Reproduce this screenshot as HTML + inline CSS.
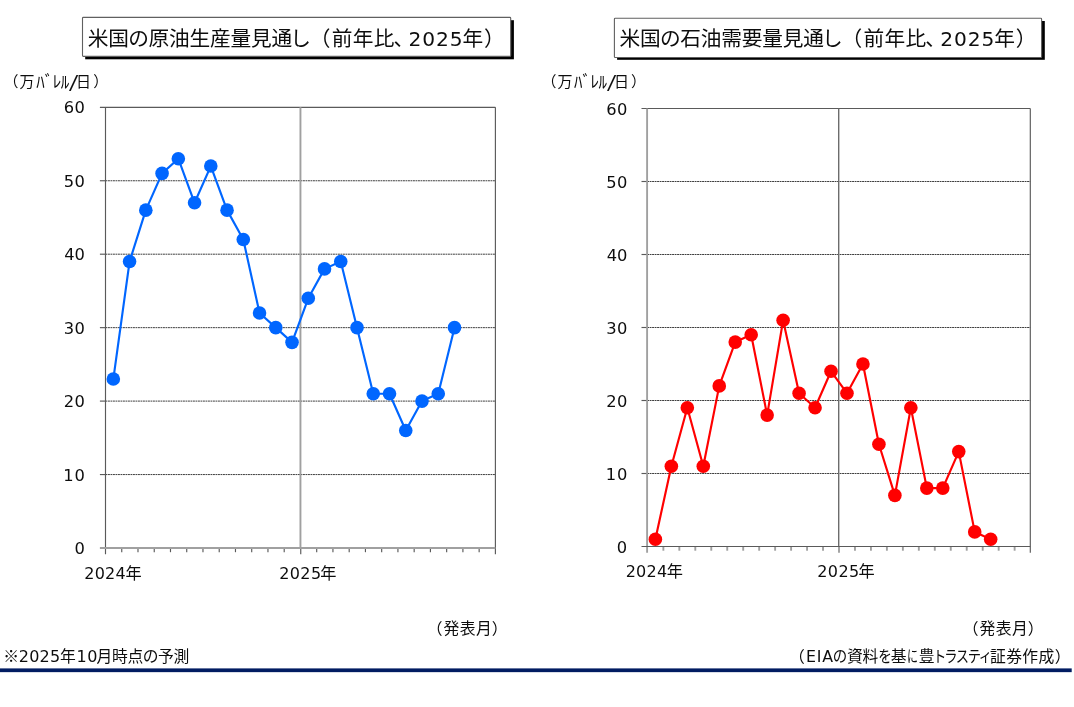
<!DOCTYPE html>
<html lang="ja">
<head>
<meta charset="utf-8">
<title>米国の原油生産量見通し・石油需要量見通し</title>
<style>
html,body{margin:0;padding:0;background:#fff;}
body{width:1074px;height:707px;overflow:hidden;position:relative;font-family:"Liberation Sans","Noto Sans CJK JP",sans-serif;color:#111;}
svg{position:absolute;left:0;top:0;display:block;}
text{fill:#0d0d0d;white-space:pre;}
</style>
</head>
<body>
<svg width="1074" height="707" viewBox="0 0 1074 707">
<rect x="0" y="0" width="1074" height="707" fill="#fff"/>
<g id="chart-left">
<line x1="105.50" y1="474.55" x2="495.40" y2="474.55" stroke="#1c1c1c" stroke-width="0.85" stroke-dasharray="1.9 0.6"/>
<line x1="105.50" y1="401.10" x2="495.40" y2="401.10" stroke="#1c1c1c" stroke-width="0.85" stroke-dasharray="1.9 0.6"/>
<line x1="105.50" y1="327.65" x2="495.40" y2="327.65" stroke="#1c1c1c" stroke-width="0.85" stroke-dasharray="1.9 0.6"/>
<line x1="105.50" y1="254.20" x2="495.40" y2="254.20" stroke="#1c1c1c" stroke-width="0.85" stroke-dasharray="1.9 0.6"/>
<line x1="105.50" y1="180.75" x2="495.40" y2="180.75" stroke="#1c1c1c" stroke-width="0.85" stroke-dasharray="1.9 0.6"/>
<line x1="99.90" y1="107.30" x2="495.40" y2="107.30" stroke="#5a5a5a" stroke-width="1.15"/>
<line x1="495.40" y1="107.30" x2="495.40" y2="554.30" stroke="#5a5a5a" stroke-width="1.15"/>
<line x1="300.45" y1="107.30" x2="300.45" y2="548.00" stroke="#a0a0a0" stroke-width="1.9"/>
<line x1="300.75" y1="548.00" x2="300.75" y2="554.30" stroke="#5a5a5a" stroke-width="1.15"/>
<line x1="99.90" y1="474.55" x2="105.50" y2="474.55" stroke="#5a5a5a" stroke-width="1.15"/>
<line x1="99.90" y1="401.10" x2="105.50" y2="401.10" stroke="#5a5a5a" stroke-width="1.15"/>
<line x1="99.90" y1="327.65" x2="105.50" y2="327.65" stroke="#5a5a5a" stroke-width="1.15"/>
<line x1="99.90" y1="254.20" x2="105.50" y2="254.20" stroke="#5a5a5a" stroke-width="1.15"/>
<line x1="99.90" y1="180.75" x2="105.50" y2="180.75" stroke="#5a5a5a" stroke-width="1.15"/>
<line x1="121.75" y1="548.00" x2="121.75" y2="552.20" stroke="#5a5a5a" stroke-width="1.15"/>
<line x1="137.99" y1="548.00" x2="137.99" y2="552.20" stroke="#5a5a5a" stroke-width="1.15"/>
<line x1="154.24" y1="548.00" x2="154.24" y2="552.20" stroke="#5a5a5a" stroke-width="1.15"/>
<line x1="170.48" y1="548.00" x2="170.48" y2="552.20" stroke="#5a5a5a" stroke-width="1.15"/>
<line x1="186.73" y1="548.00" x2="186.73" y2="552.20" stroke="#5a5a5a" stroke-width="1.15"/>
<line x1="202.97" y1="548.00" x2="202.97" y2="552.20" stroke="#5a5a5a" stroke-width="1.15"/>
<line x1="219.22" y1="548.00" x2="219.22" y2="552.20" stroke="#5a5a5a" stroke-width="1.15"/>
<line x1="235.47" y1="548.00" x2="235.47" y2="552.20" stroke="#5a5a5a" stroke-width="1.15"/>
<line x1="251.71" y1="548.00" x2="251.71" y2="552.20" stroke="#5a5a5a" stroke-width="1.15"/>
<line x1="267.96" y1="548.00" x2="267.96" y2="552.20" stroke="#5a5a5a" stroke-width="1.15"/>
<line x1="284.20" y1="548.00" x2="284.20" y2="552.20" stroke="#5a5a5a" stroke-width="1.15"/>
<line x1="316.70" y1="548.00" x2="316.70" y2="552.20" stroke="#5a5a5a" stroke-width="1.15"/>
<line x1="332.94" y1="548.00" x2="332.94" y2="552.20" stroke="#5a5a5a" stroke-width="1.15"/>
<line x1="349.19" y1="548.00" x2="349.19" y2="552.20" stroke="#5a5a5a" stroke-width="1.15"/>
<line x1="365.43" y1="548.00" x2="365.43" y2="552.20" stroke="#5a5a5a" stroke-width="1.15"/>
<line x1="381.68" y1="548.00" x2="381.68" y2="552.20" stroke="#5a5a5a" stroke-width="1.15"/>
<line x1="397.93" y1="548.00" x2="397.93" y2="552.20" stroke="#5a5a5a" stroke-width="1.15"/>
<line x1="414.17" y1="548.00" x2="414.17" y2="552.20" stroke="#5a5a5a" stroke-width="1.15"/>
<line x1="430.42" y1="548.00" x2="430.42" y2="552.20" stroke="#5a5a5a" stroke-width="1.15"/>
<line x1="446.66" y1="548.00" x2="446.66" y2="552.20" stroke="#5a5a5a" stroke-width="1.15"/>
<line x1="462.91" y1="548.00" x2="462.91" y2="552.20" stroke="#5a5a5a" stroke-width="1.15"/>
<line x1="479.15" y1="548.00" x2="479.15" y2="552.20" stroke="#5a5a5a" stroke-width="1.15"/>
<line x1="105.50" y1="107.30" x2="105.50" y2="554.30" stroke="#5a5a5a" stroke-width="1.15"/>
<line x1="99.90" y1="548.00" x2="495.40" y2="548.00" stroke="#a0a0a0" stroke-width="1.9"/>
<polyline fill="none" stroke="#0066ff" stroke-width="2.15" stroke-linejoin="round" points="113.32,379.06 129.57,261.55 145.81,210.13 162.06,173.41 178.31,158.72 194.55,202.79 210.80,166.06 227.04,210.13 243.29,239.51 259.54,312.96 275.78,327.65 292.03,342.34 308.27,298.27 324.52,268.89 340.76,261.55 357.01,327.65 373.26,393.75 389.50,393.75 405.75,430.48 421.99,401.10 438.24,393.75 454.49,327.65"/>
<circle cx="113.32" cy="379.06" r="6.8" fill="#0066ff"/>
<circle cx="129.57" cy="261.55" r="6.8" fill="#0066ff"/>
<circle cx="145.81" cy="210.13" r="6.8" fill="#0066ff"/>
<circle cx="162.06" cy="173.41" r="6.8" fill="#0066ff"/>
<circle cx="178.31" cy="158.72" r="6.8" fill="#0066ff"/>
<circle cx="194.55" cy="202.79" r="6.8" fill="#0066ff"/>
<circle cx="210.80" cy="166.06" r="6.8" fill="#0066ff"/>
<circle cx="227.04" cy="210.13" r="6.8" fill="#0066ff"/>
<circle cx="243.29" cy="239.51" r="6.8" fill="#0066ff"/>
<circle cx="259.54" cy="312.96" r="6.8" fill="#0066ff"/>
<circle cx="275.78" cy="327.65" r="6.8" fill="#0066ff"/>
<circle cx="292.03" cy="342.34" r="6.8" fill="#0066ff"/>
<circle cx="308.27" cy="298.27" r="6.8" fill="#0066ff"/>
<circle cx="324.52" cy="268.89" r="6.8" fill="#0066ff"/>
<circle cx="340.76" cy="261.55" r="6.8" fill="#0066ff"/>
<circle cx="357.01" cy="327.65" r="6.8" fill="#0066ff"/>
<circle cx="373.26" cy="393.75" r="6.8" fill="#0066ff"/>
<circle cx="389.50" cy="393.75" r="6.8" fill="#0066ff"/>
<circle cx="405.75" cy="430.48" r="6.8" fill="#0066ff"/>
<circle cx="421.99" cy="401.10" r="6.8" fill="#0066ff"/>
<circle cx="438.24" cy="393.75" r="6.8" fill="#0066ff"/>
<circle cx="454.49" cy="327.65" r="6.8" fill="#0066ff"/>
<rect x="85.20" y="20.20" width="428.70" height="39.10" fill="#000"/>
<rect x="82.50" y="17.40" width="428.20" height="39.00" rx="0.8" fill="#fff" stroke="#606060" stroke-width="1.1"/>
<text><tspan x="87.65" y="46.00" font-family='"Liberation Sans","Noto Sans CJK JP",sans-serif' font-size="20.7" style="font-feature-settings:'palt'" letter-spacing="-0.185">米国の原油生産量見通し</tspan><tspan x="319.43" y="46.00" font-family='"Liberation Sans","Noto Sans CJK JP",sans-serif' font-size="20.7" style="font-feature-settings:'palt'">（</tspan><tspan x="331.80" y="46.00" font-family='"Liberation Sans","Noto Sans CJK JP",sans-serif' font-size="20.7" letter-spacing="0.300">前年比</tspan><tspan x="393.73" y="46.00" font-family='"Liberation Sans","Noto Sans CJK JP",sans-serif' font-size="20.7" style="font-feature-settings:'palt'">、</tspan><tspan x="408.40" y="46.00" font-family='"DejaVu Sans","Liberation Sans",sans-serif' font-size="20.2" letter-spacing="0.950">2025</tspan><tspan x="462.43" y="46.00" font-family='"Liberation Sans","Noto Sans CJK JP",sans-serif' font-size="20.7">年</tspan><tspan x="484.77" y="46.00" font-family='"Liberation Sans","Noto Sans CJK JP",sans-serif' font-size="20.7" style="font-feature-settings:'palt'">）</tspan></text>
<text><tspan x="10.55" y="86.62" font-family='"Liberation Sans","Noto Sans CJK JP",sans-serif' font-size="15.0" style="font-feature-settings:'palt'">（</tspan><tspan x="19.60" y="86.62" font-family='"Liberation Sans","Noto Sans CJK JP",sans-serif' font-size="15.0">万</tspan><tspan x="36.15" y="88.03" font-family='"Liberation Sans","Noto Sans CJK JP",sans-serif' font-size="17.0" letter-spacing="-0.467">ﾊﾞﾚﾙ</tspan><tspan x="68.00" y="89.12" font-family='"DejaVu Sans Mono","Liberation Mono",monospace' font-size="19.4">/</tspan><tspan x="76.03" y="86.62" font-family='"Liberation Sans","Noto Sans CJK JP",sans-serif' font-size="15.0">日</tspan><tspan x="93.68" y="86.62" font-family='"Liberation Sans","Noto Sans CJK JP",sans-serif' font-size="15.0" style="font-feature-settings:'palt'">）</tspan></text>
<text><tspan x="74.43" y="554.02" font-family='"DejaVu Sans","Liberation Sans",sans-serif' font-size="16.3">0</tspan></text>
<text><tspan x="63.25" y="480.57" font-family='"DejaVu Sans","Liberation Sans",sans-serif' font-size="16.3" letter-spacing="0.900">10</tspan></text>
<text><tspan x="63.75" y="407.12" font-family='"DejaVu Sans","Liberation Sans",sans-serif' font-size="16.3" letter-spacing="0.400">20</tspan></text>
<text><tspan x="63.75" y="333.67" font-family='"DejaVu Sans","Liberation Sans",sans-serif' font-size="16.3" letter-spacing="0.400">30</tspan></text>
<text><tspan x="64.25" y="260.22" font-family='"DejaVu Sans","Liberation Sans",sans-serif' font-size="16.3" letter-spacing="-0.100">40</tspan></text>
<text><tspan x="63.75" y="186.78" font-family='"DejaVu Sans","Liberation Sans",sans-serif' font-size="16.3" letter-spacing="0.400">50</tspan></text>
<text><tspan x="63.75" y="113.33" font-family='"DejaVu Sans","Liberation Sans",sans-serif' font-size="16.3" letter-spacing="0.400">60</tspan></text>
<text><tspan x="84.25" y="578.50" font-family='"DejaVu Sans","Liberation Sans",sans-serif' font-size="16" letter-spacing="0.217">2024</tspan><tspan x="125.38" y="578.50" font-family='"Liberation Sans","Noto Sans CJK JP",sans-serif' font-size="16.2">年</tspan></text>
<text><tspan x="279.20" y="578.50" font-family='"DejaVu Sans","Liberation Sans",sans-serif' font-size="16" letter-spacing="0.383">2025</tspan><tspan x="320.33" y="578.50" font-family='"Liberation Sans","Noto Sans CJK JP",sans-serif' font-size="16.2">年</tspan></text>
<text><tspan x="434.05" y="634.25" font-family='"Liberation Sans","Noto Sans CJK JP",sans-serif' font-size="15.8" style="font-feature-settings:'palt'">（</tspan><tspan x="443.50" y="634.25" font-family='"Liberation Sans","Noto Sans CJK JP",sans-serif' font-size="15.8" letter-spacing="0.500">発表月</tspan><tspan x="492.35" y="634.25" font-family='"Liberation Sans","Noto Sans CJK JP",sans-serif' font-size="15.8" style="font-feature-settings:'palt'">）</tspan></text>
</g>
<g id="chart-right">
<line x1="647.10" y1="473.50" x2="1030.30" y2="473.50" stroke="#1c1c1c" stroke-width="0.85" stroke-dasharray="1.9 0.6"/>
<line x1="647.10" y1="400.50" x2="1030.30" y2="400.50" stroke="#1c1c1c" stroke-width="0.85" stroke-dasharray="1.9 0.6"/>
<line x1="647.10" y1="327.50" x2="1030.30" y2="327.50" stroke="#1c1c1c" stroke-width="0.85" stroke-dasharray="1.9 0.6"/>
<line x1="647.10" y1="254.50" x2="1030.30" y2="254.50" stroke="#1c1c1c" stroke-width="0.85" stroke-dasharray="1.9 0.6"/>
<line x1="647.10" y1="181.50" x2="1030.30" y2="181.50" stroke="#1c1c1c" stroke-width="0.85" stroke-dasharray="1.9 0.6"/>
<line x1="641.50" y1="108.50" x2="1030.30" y2="108.50" stroke="#5a5a5a" stroke-width="1.15"/>
<line x1="1030.30" y1="108.50" x2="1030.30" y2="552.80" stroke="#5a5a5a" stroke-width="1.15"/>
<line x1="838.70" y1="108.50" x2="838.70" y2="546.50" stroke="#6c6c6c" stroke-width="1.4"/>
<line x1="839.00" y1="546.50" x2="839.00" y2="552.80" stroke="#a0a0a0" stroke-width="1.9"/>
<line x1="641.50" y1="473.50" x2="647.10" y2="473.50" stroke="#5a5a5a" stroke-width="1.15"/>
<line x1="641.50" y1="400.50" x2="647.10" y2="400.50" stroke="#5a5a5a" stroke-width="1.15"/>
<line x1="641.50" y1="327.50" x2="647.10" y2="327.50" stroke="#5a5a5a" stroke-width="1.15"/>
<line x1="641.50" y1="254.50" x2="647.10" y2="254.50" stroke="#5a5a5a" stroke-width="1.15"/>
<line x1="641.50" y1="181.50" x2="647.10" y2="181.50" stroke="#5a5a5a" stroke-width="1.15"/>
<line x1="663.37" y1="546.50" x2="663.37" y2="550.70" stroke="#a0a0a0" stroke-width="1.9"/>
<line x1="679.33" y1="546.50" x2="679.33" y2="550.70" stroke="#a0a0a0" stroke-width="1.9"/>
<line x1="695.30" y1="546.50" x2="695.30" y2="550.70" stroke="#a0a0a0" stroke-width="1.9"/>
<line x1="711.27" y1="546.50" x2="711.27" y2="550.70" stroke="#a0a0a0" stroke-width="1.9"/>
<line x1="727.23" y1="546.50" x2="727.23" y2="550.70" stroke="#a0a0a0" stroke-width="1.9"/>
<line x1="743.20" y1="546.50" x2="743.20" y2="550.70" stroke="#a0a0a0" stroke-width="1.9"/>
<line x1="759.17" y1="546.50" x2="759.17" y2="550.70" stroke="#a0a0a0" stroke-width="1.9"/>
<line x1="775.13" y1="546.50" x2="775.13" y2="550.70" stroke="#a0a0a0" stroke-width="1.9"/>
<line x1="791.10" y1="546.50" x2="791.10" y2="550.70" stroke="#a0a0a0" stroke-width="1.9"/>
<line x1="807.07" y1="546.50" x2="807.07" y2="550.70" stroke="#a0a0a0" stroke-width="1.9"/>
<line x1="823.03" y1="546.50" x2="823.03" y2="550.70" stroke="#a0a0a0" stroke-width="1.9"/>
<line x1="854.97" y1="546.50" x2="854.97" y2="550.70" stroke="#a0a0a0" stroke-width="1.9"/>
<line x1="870.93" y1="546.50" x2="870.93" y2="550.70" stroke="#a0a0a0" stroke-width="1.9"/>
<line x1="886.90" y1="546.50" x2="886.90" y2="550.70" stroke="#a0a0a0" stroke-width="1.9"/>
<line x1="902.87" y1="546.50" x2="902.87" y2="550.70" stroke="#a0a0a0" stroke-width="1.9"/>
<line x1="918.83" y1="546.50" x2="918.83" y2="550.70" stroke="#a0a0a0" stroke-width="1.9"/>
<line x1="934.80" y1="546.50" x2="934.80" y2="550.70" stroke="#a0a0a0" stroke-width="1.9"/>
<line x1="950.77" y1="546.50" x2="950.77" y2="550.70" stroke="#a0a0a0" stroke-width="1.9"/>
<line x1="966.73" y1="546.50" x2="966.73" y2="550.70" stroke="#a0a0a0" stroke-width="1.9"/>
<line x1="982.70" y1="546.50" x2="982.70" y2="550.70" stroke="#a0a0a0" stroke-width="1.9"/>
<line x1="998.67" y1="546.50" x2="998.67" y2="550.70" stroke="#a0a0a0" stroke-width="1.9"/>
<line x1="1014.63" y1="546.50" x2="1014.63" y2="550.70" stroke="#a0a0a0" stroke-width="1.9"/>
<line x1="647.10" y1="108.50" x2="647.10" y2="552.80" stroke="#a0a0a0" stroke-width="1.9"/>
<line x1="641.50" y1="546.50" x2="1030.30" y2="546.50" stroke="#5a5a5a" stroke-width="1.15"/>
<polyline fill="none" stroke="#ff0000" stroke-width="2.15" stroke-linejoin="round" points="655.38,539.20 671.35,466.20 687.32,407.80 703.28,466.20 719.25,385.90 735.22,342.10 751.18,334.80 767.15,415.10 783.12,320.20 799.08,393.20 815.05,407.80 831.02,371.30 846.98,393.20 862.95,364.00 878.92,444.30 894.88,495.40 910.85,407.80 926.82,488.10 942.78,488.10 958.75,451.60 974.72,531.90 990.68,539.20"/>
<circle cx="655.38" cy="539.20" r="6.8" fill="#ff0000"/>
<circle cx="671.35" cy="466.20" r="6.8" fill="#ff0000"/>
<circle cx="687.32" cy="407.80" r="6.8" fill="#ff0000"/>
<circle cx="703.28" cy="466.20" r="6.8" fill="#ff0000"/>
<circle cx="719.25" cy="385.90" r="6.8" fill="#ff0000"/>
<circle cx="735.22" cy="342.10" r="6.8" fill="#ff0000"/>
<circle cx="751.18" cy="334.80" r="6.8" fill="#ff0000"/>
<circle cx="767.15" cy="415.10" r="6.8" fill="#ff0000"/>
<circle cx="783.12" cy="320.20" r="6.8" fill="#ff0000"/>
<circle cx="799.08" cy="393.20" r="6.8" fill="#ff0000"/>
<circle cx="815.05" cy="407.80" r="6.8" fill="#ff0000"/>
<circle cx="831.02" cy="371.30" r="6.8" fill="#ff0000"/>
<circle cx="846.98" cy="393.20" r="6.8" fill="#ff0000"/>
<circle cx="862.95" cy="364.00" r="6.8" fill="#ff0000"/>
<circle cx="878.92" cy="444.30" r="6.8" fill="#ff0000"/>
<circle cx="894.88" cy="495.40" r="6.8" fill="#ff0000"/>
<circle cx="910.85" cy="407.80" r="6.8" fill="#ff0000"/>
<circle cx="926.82" cy="488.10" r="6.8" fill="#ff0000"/>
<circle cx="942.78" cy="488.10" r="6.8" fill="#ff0000"/>
<circle cx="958.75" cy="451.60" r="6.8" fill="#ff0000"/>
<circle cx="974.72" cy="531.90" r="6.8" fill="#ff0000"/>
<circle cx="990.68" cy="539.20" r="6.8" fill="#ff0000"/>
<rect x="617.10" y="21.00" width="427.70" height="38.80" fill="#000"/>
<rect x="614.40" y="18.20" width="427.20" height="39.30" rx="0.8" fill="#fff" stroke="#606060" stroke-width="1.1"/>
<text><tspan x="619.45" y="46.45" font-family='"Liberation Sans","Noto Sans CJK JP",sans-serif' font-size="20.7" style="font-feature-settings:'palt'" letter-spacing="-0.185">米国の石油需要量見通し</tspan><tspan x="851.22" y="46.45" font-family='"Liberation Sans","Noto Sans CJK JP",sans-serif' font-size="20.7" style="font-feature-settings:'palt'">（</tspan><tspan x="863.60" y="46.45" font-family='"Liberation Sans","Noto Sans CJK JP",sans-serif' font-size="20.7" letter-spacing="0.300">前年比</tspan><tspan x="925.52" y="46.45" font-family='"Liberation Sans","Noto Sans CJK JP",sans-serif' font-size="20.7" style="font-feature-settings:'palt'">、</tspan><tspan x="940.20" y="46.45" font-family='"DejaVu Sans","Liberation Sans",sans-serif' font-size="20.2" letter-spacing="0.950">2025</tspan><tspan x="994.22" y="46.45" font-family='"Liberation Sans","Noto Sans CJK JP",sans-serif' font-size="20.7">年</tspan><tspan x="1016.58" y="46.45" font-family='"Liberation Sans","Noto Sans CJK JP",sans-serif' font-size="20.7" style="font-feature-settings:'palt'">）</tspan></text>
<text><tspan x="548.45" y="86.62" font-family='"Liberation Sans","Noto Sans CJK JP",sans-serif' font-size="15.0" style="font-feature-settings:'palt'">（</tspan><tspan x="557.50" y="86.62" font-family='"Liberation Sans","Noto Sans CJK JP",sans-serif' font-size="15.0">万</tspan><tspan x="574.05" y="88.03" font-family='"Liberation Sans","Noto Sans CJK JP",sans-serif' font-size="17.0" letter-spacing="-0.467">ﾊﾞﾚﾙ</tspan><tspan x="605.90" y="89.12" font-family='"DejaVu Sans Mono","Liberation Mono",monospace' font-size="19.4">/</tspan><tspan x="613.92" y="86.62" font-family='"Liberation Sans","Noto Sans CJK JP",sans-serif' font-size="15.0">日</tspan><tspan x="631.58" y="86.62" font-family='"Liberation Sans","Noto Sans CJK JP",sans-serif' font-size="15.0" style="font-feature-settings:'palt'">）</tspan></text>
<text><tspan x="616.82" y="552.88" font-family='"DejaVu Sans","Liberation Sans",sans-serif' font-size="16.3">0</tspan></text>
<text><tspan x="605.65" y="479.88" font-family='"DejaVu Sans","Liberation Sans",sans-serif' font-size="16.3" letter-spacing="0.900">10</tspan></text>
<text><tspan x="606.15" y="406.88" font-family='"DejaVu Sans","Liberation Sans",sans-serif' font-size="16.3" letter-spacing="0.400">20</tspan></text>
<text><tspan x="606.15" y="333.88" font-family='"DejaVu Sans","Liberation Sans",sans-serif' font-size="16.3" letter-spacing="0.400">30</tspan></text>
<text><tspan x="606.65" y="260.88" font-family='"DejaVu Sans","Liberation Sans",sans-serif' font-size="16.3" letter-spacing="-0.100">40</tspan></text>
<text><tspan x="606.15" y="187.88" font-family='"DejaVu Sans","Liberation Sans",sans-serif' font-size="16.3" letter-spacing="0.400">50</tspan></text>
<text><tspan x="606.15" y="114.88" font-family='"DejaVu Sans","Liberation Sans",sans-serif' font-size="16.3" letter-spacing="0.400">60</tspan></text>
<text><tspan x="625.71" y="577.00" font-family='"DejaVu Sans","Liberation Sans",sans-serif' font-size="16" letter-spacing="0.217">2024</tspan><tspan x="666.84" y="577.00" font-family='"Liberation Sans","Noto Sans CJK JP",sans-serif' font-size="16.2">年</tspan></text>
<text><tspan x="817.31" y="577.00" font-family='"DejaVu Sans","Liberation Sans",sans-serif' font-size="16" letter-spacing="0.383">2025</tspan><tspan x="858.44" y="577.00" font-family='"Liberation Sans","Noto Sans CJK JP",sans-serif' font-size="16.2">年</tspan></text>
<text><tspan x="970.05" y="634.25" font-family='"Liberation Sans","Noto Sans CJK JP",sans-serif' font-size="15.8" style="font-feature-settings:'palt'">（</tspan><tspan x="979.50" y="634.25" font-family='"Liberation Sans","Noto Sans CJK JP",sans-serif' font-size="15.8" letter-spacing="0.500">発表月</tspan><tspan x="1028.35" y="634.25" font-family='"Liberation Sans","Noto Sans CJK JP",sans-serif' font-size="15.8" style="font-feature-settings:'palt'">）</tspan></text>
</g>
<g id="footer">
<text><tspan x="3.27" y="661.80" font-family='"Liberation Sans","Noto Sans CJK JP",sans-serif' font-size="15.8">※</tspan><tspan x="18.75" y="661.80" font-family='"DejaVu Sans","Liberation Sans",sans-serif' font-size="16" letter-spacing="0.233">2025</tspan><tspan x="59.88" y="661.80" font-family='"Liberation Sans","Noto Sans CJK JP",sans-serif' font-size="15.8">年</tspan><tspan x="76.45" y="661.80" font-family='"DejaVu Sans","Liberation Sans",sans-serif' font-size="16" letter-spacing="0.600">10</tspan><tspan x="96.50" y="661.80" font-family='"Liberation Sans","Noto Sans CJK JP",sans-serif' font-size="15.8" style="font-feature-settings:'palt'" letter-spacing="-0.280">月時点の予測</tspan></text>
<text><tspan x="796.40" y="661.95" font-family='"Liberation Sans","Noto Sans CJK JP",sans-serif' font-size="15.8" style="font-feature-settings:'palt'">（</tspan><tspan x="805.90" y="661.95" font-family='"DejaVu Sans","Liberation Sans",sans-serif' font-size="15.8" letter-spacing="0.825">EIA</tspan><tspan x="832.95" y="661.95" font-family='"Liberation Sans","Noto Sans CJK JP",sans-serif' font-size="15.8" style="font-feature-settings:'palt'" textLength="13.98" lengthAdjust="spacingAndGlyphs">の</tspan><tspan x="847.05" y="661.95" font-family='"Liberation Sans","Noto Sans CJK JP",sans-serif' font-size="15.8" letter-spacing="-0.250">資料</tspan><tspan x="878.41" y="661.95" font-family='"Liberation Sans","Noto Sans CJK JP",sans-serif' font-size="15.8" style="font-feature-settings:'palt'" textLength="12.51" lengthAdjust="spacingAndGlyphs">を</tspan><tspan x="890.65" y="661.95" font-family='"Liberation Sans","Noto Sans CJK JP",sans-serif' font-size="15.8">基</tspan><tspan x="907.19" y="661.95" font-family='"Liberation Sans","Noto Sans CJK JP",sans-serif' font-size="15.8" style="font-feature-settings:'palt'" textLength="10.56" lengthAdjust="spacingAndGlyphs">に</tspan><tspan x="918.83" y="661.95" font-family='"Liberation Sans","Noto Sans CJK JP",sans-serif' font-size="15.8">豊</tspan><tspan x="934.88" y="661.95" font-family='"Liberation Sans","Noto Sans CJK JP",sans-serif' font-size="15.8" style="font-feature-settings:'palt'" textLength="55.01" lengthAdjust="spacingAndGlyphs">トラスティ</tspan><tspan x="990.10" y="661.95" font-family='"Liberation Sans","Noto Sans CJK JP",sans-serif' font-size="15.8" letter-spacing="0.300">証券作成</tspan><tspan x="1055.35" y="661.95" font-family='"Liberation Sans","Noto Sans CJK JP",sans-serif' font-size="15.8" style="font-feature-settings:'palt'">）</tspan></text>
<rect x="0" y="668.4" width="1071.7" height="3.75" fill="#011c62"/>
</g>
</svg>
</body>
</html>
